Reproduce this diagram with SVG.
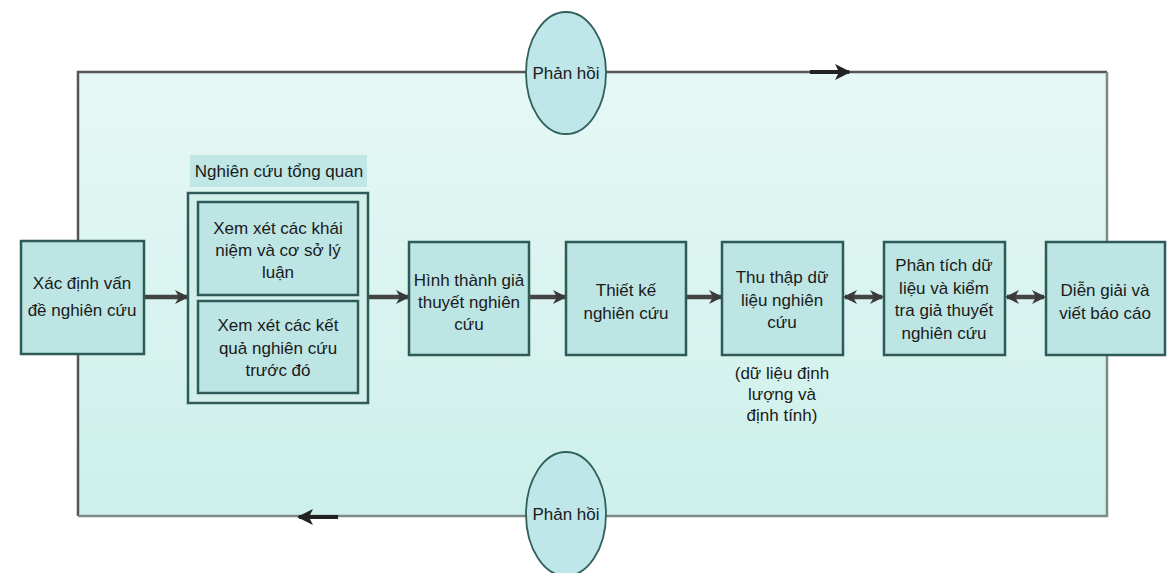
<svg xmlns="http://www.w3.org/2000/svg" width="1168" height="573" viewBox="0 0 1168 573">
<defs>
<linearGradient id="bg" x1="0" y1="0" x2="0" y2="1">
<stop offset="0" stop-color="#e6f8f6"/>
<stop offset="1" stop-color="#cdf0ea"/>
</linearGradient>
<marker id="ah" viewBox="0 0 14 14" refX="12" refY="7" markerWidth="14" markerHeight="14" markerUnits="userSpaceOnUse" orient="auto-start-reverse">
<path d="M0,0 L14,7 L0,14 L4,7 z" fill="#3a3a3a"/>
</marker>
<marker id="ahb" viewBox="0 0 16 16" refX="14" refY="8" markerWidth="16" markerHeight="16" markerUnits="userSpaceOnUse" orient="auto">
<path d="M0,0 L16,8 L0,16 L4,8 z" fill="#222"/>
</marker>
</defs>
<style>
text{font-family:"Liberation Sans",Arial,sans-serif;font-size:17px;fill:#1a1a1a;text-anchor:middle}
.box{fill:#bde5e4;stroke:#2e5b58;stroke-width:2.5}
.grp{fill:#d3efec;stroke:#2e5b58;stroke-width:2.5}
.ell{fill:#bfe6e8;stroke:#2f625d;stroke-width:1.8}
.conn{stroke:#444;stroke-width:4.5;fill:none}
.fb{stroke:#222;stroke-width:4;fill:none}
</style>
<rect width="1168" height="573" fill="#ffffff"/>
<g id="frame">
<rect x="78" y="72" width="1029" height="444" fill="url(#bg)"/>
<path d="M78,516 L78,72 L1107,72" fill="none" stroke="#555" stroke-width="2.5"/>
<path d="M1107,72 L1107,516 L78,516" fill="none" stroke="#7d8a89" stroke-width="2.5"/>
</g>
<g id="connectors">
<line class="conn" x1="144" y1="297" x2="187" y2="297" marker-end="url(#ah)"/>
<line class="conn" x1="369" y1="297" x2="408" y2="297" marker-end="url(#ah)"/>
<line class="conn" x1="530" y1="297" x2="565" y2="297" marker-end="url(#ah)"/>
<line class="conn" x1="687" y1="297" x2="721" y2="297" marker-end="url(#ah)"/>
<line class="conn" x1="845" y1="297" x2="882" y2="297" marker-start="url(#ah)" marker-end="url(#ah)"/>
<line class="conn" x1="1007" y1="297" x2="1044" y2="297" marker-start="url(#ah)" marker-end="url(#ah)"/>
<line class="fb" x1="810" y1="72" x2="849" y2="72" marker-end="url(#ahb)"/>
<line class="fb" x1="338" y1="517" x2="299" y2="517" marker-end="url(#ahb)"/>
</g>
<g id="feedback-top">
<ellipse class="ell" cx="566" cy="73" rx="40" ry="61"/>
<text x="566" y="79">Phản hồi</text>
</g>
<g id="feedback-bottom">
<ellipse class="ell" cx="566" cy="514" rx="40" ry="62"/>
<text x="566" y="520">Phản hồi</text>
</g>
<g id="n1">
<rect class="box" x="21" y="241" width="123" height="113"/>
<text x="82" y="289">Xác định vấn</text>
<text x="82" y="316">đề nghiên cứu</text>
</g>
<g id="lit-review">
<rect x="190" y="155" width="177" height="32" fill="#c0e6e6"/>
<text x="279" y="177">Nghiên cứu tổng quan</text>
<rect class="grp" x="188" y="193" width="180" height="210"/>
</g>
<g id="n2a">
<rect class="box" x="198" y="202" width="160" height="93"/>
<text x="278" y="234">Xem xét các khái</text>
<text x="278" y="256">niệm và cơ sở lý</text>
<text x="278" y="278">luận</text>
</g>
<g id="n2b">
<rect class="box" x="198" y="301" width="160" height="92"/>
<text x="278" y="331">Xem xét các kết</text>
<text x="278" y="354">quả nghiên cứu</text>
<text x="278" y="376">trước đó</text>
</g>
<g id="n3">
<rect class="box" x="409" y="242" width="120" height="113"/>
<text x="469" y="286">Hình thành giả</text>
<text x="469" y="308">thuyết nghiên</text>
<text x="469" y="330">cứu</text>
</g>
<g id="n4">
<rect class="box" x="566" y="242" width="120" height="113"/>
<text x="626" y="296">Thiết kế</text>
<text x="626" y="319">nghiên cứu</text>
</g>
<g id="n5">
<rect class="box" x="722" y="242" width="121" height="113"/>
<text x="782" y="283">Thu thập dữ</text>
<text x="782" y="306">liệu nghiên</text>
<text x="782" y="328">cứu</text>
<text x="782" y="379">(dữ liệu định</text>
<text x="782" y="400">lượng và</text>
<text x="782" y="421">định tính)</text>
</g>
<g id="n6">
<rect class="box" x="884" y="242" width="121" height="113"/>
<text x="944" y="271">Phân tích dữ</text>
<text x="944" y="294">liệu và kiểm</text>
<text x="944" y="316">tra giả thuyết</text>
<text x="944" y="339">nghiên cứu</text>
</g>
<g id="n7">
<rect class="box" x="1046" y="242" width="119" height="113"/>
<text x="1105" y="296">Diễn giải và</text>
<text x="1105" y="319">viết báo cáo</text>
</g>
</svg>
